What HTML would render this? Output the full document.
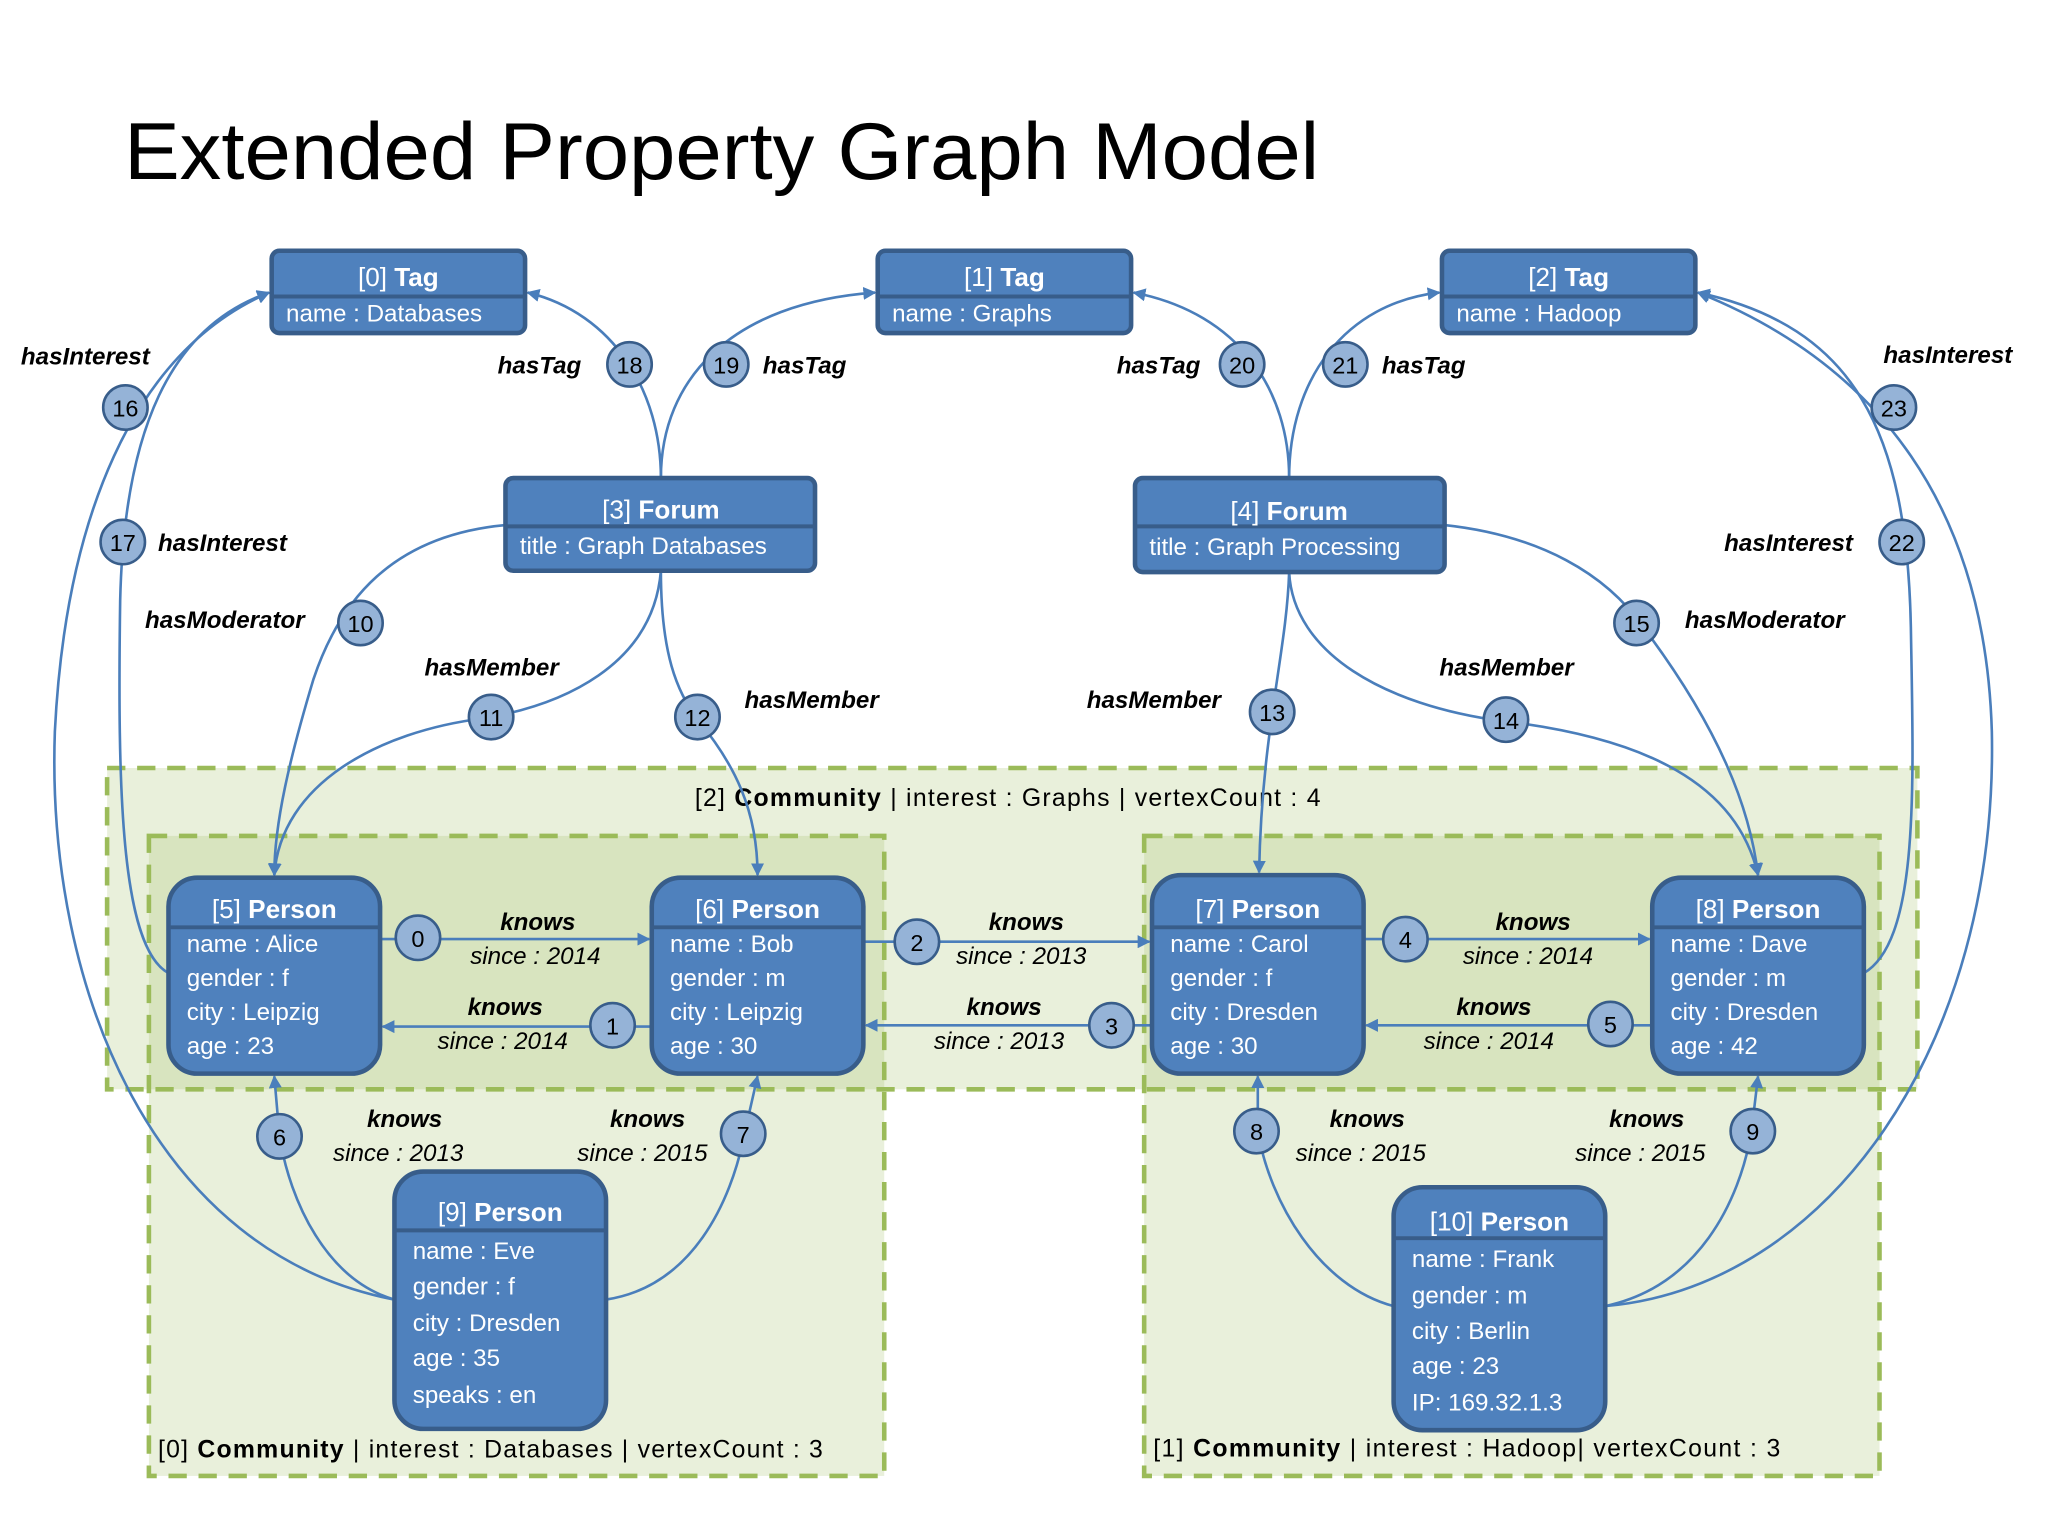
<!DOCTYPE html>
<html><head><meta charset="utf-8"><style>
html,body{margin:0;padding:0;background:#fff;}
svg{display:block;}
.t{font-family:"Liberation Sans",sans-serif;}
.nt{fill:#fff;font-size:20px;}
.nb{fill:#fff;font-size:18.5px;}
.lb{font-size:18.5px;font-weight:bold;font-style:italic;fill:#000;}
.li{font-size:18.5px;font-style:italic;fill:#000;}
.num{font-size:18px;fill:#000;text-anchor:middle;}
.e{fill:none;stroke:#4a7ebb;stroke-width:2;}
.c{fill:#95b3d7;stroke:#385d8a;stroke-width:2;}
.n{fill:#4f81bd;stroke:#385d8a;stroke-width:3.5;}
.cm{fill:rgba(155,187,89,0.22);stroke:#9bbb59;stroke-width:3.5;stroke-dasharray:14 9;}
.ct{font-size:19px;fill:#000;}
</style></head><body>
<svg width="2048" height="1536" viewBox="0 0 1568 1176" xmlns="http://www.w3.org/2000/svg" class="t">
<defs><marker id="a" markerWidth="10" markerHeight="10" refX="9" refY="5" orient="auto" markerUnits="userSpaceOnUse"><path d="M0,0 L10,5 L0,10 z" fill="#4a7ebb"/></marker></defs>
<text x="95" y="137" font-size="62" fill="#000" textLength="915" lengthAdjust="spacingAndGlyphs" class="t">Extended Property Graph Model</text>

<!-- communities -->
<rect class="cm" x="82" y="588" width="1386" height="246"/>
<rect class="cm" x="114" y="640" width="563" height="490"/>
<rect class="cm" x="876" y="640" width="563" height="490"/>
<text class="ct" x="532" y="617" textLength="479">[2] <tspan font-weight="bold">Community</tspan> | interest : Graphs | vertexCount : 4</text>
<text class="ct" x="121" y="1116" textLength="509">[0] <tspan font-weight="bold">Community</tspan> | interest : Databases | vertexCount : 3</text>
<text class="ct" x="883" y="1115" textLength="480">[1] <tspan font-weight="bold">Community</tspan> | interest : Hadoop| vertexCount : 3</text>

<!-- edges -->
<g class="e" marker-end="url(#a)">
<path d="M506,366 C506,300 470,240 404,224"/>
<path d="M506,366 C506,290 560,232 670,224"/>
<path d="M987,366 C987,300 950,240 868,224"/>
<path d="M987,366 C987,290 1030,232 1102,224"/>
<path d="M302,995 C120,960 35,760 42,560 C50,400 100,270 206,224"/>
<path d="M129,745 C92,725 90,600 92,460 C95,330 130,250 206,224"/>
<path d="M1229,1000 C1400,985 1530,800 1525,560 C1520,390 1440,280 1300,224"/>
<path d="M1427,745 C1470,720 1465,600 1463,480 C1460,330 1420,250 1300,224"/>
<path d="M387,402 C300,410 260,460 240,520 C222,580 210,630 210,670"/>
<path d="M506,437 C500,510 430,540 370,550 C290,560 215,600 210,670"/>
<path d="M506,437 C506,500 518,530 535,552 C562,585 580,620 580,670"/>
<path d="M987,438 C985,500 966,560 964,668"/>
<path d="M987,438 C990,500 1060,540 1150,552 C1260,565 1330,600 1346,670"/>
<path d="M1106,402 C1180,410 1230,440 1258,480 C1318,560 1340,620 1346,670"/>
<path d="M291,719 L497,719"/>
<path d="M499,786 L293,786"/>
<path d="M661,721 L880,721"/>
<path d="M882,785 L663,785"/>
<path d="M1044,719 L1263,719"/>
<path d="M1265,785 L1046,785"/>
<path d="M302,995 C250,980 222,920 214,870 L210,824"/>
<path d="M464,995 C530,985 560,920 570,868 L580,824"/>
<path d="M1067,1000 C1010,985 972,920 963,866 L963,824"/>
<path d="M1229,1000 C1300,985 1332,920 1341,866 L1346,824"/>
</g>

<!-- circles -->
<g>
<circle class="c" cx="482" cy="279" r="17"/><text class="num" x="482" y="286">18</text>
<circle class="c" cx="556" cy="279" r="17"/><text class="num" x="556" y="286">19</text>
<circle class="c" cx="951" cy="279" r="17"/><text class="num" x="951" y="286">20</text>
<circle class="c" cx="1030" cy="279" r="17"/><text class="num" x="1030" y="286">21</text>
<circle class="c" cx="96" cy="312" r="17"/><text class="num" x="96" y="319">16</text>
<circle class="c" cx="94" cy="415" r="17"/><text class="num" x="94" y="422">17</text>
<circle class="c" cx="1450" cy="312" r="17"/><text class="num" x="1450" y="319">23</text>
<circle class="c" cx="1456" cy="415" r="17"/><text class="num" x="1456" y="422">22</text>
<circle class="c" cx="276" cy="477" r="17"/><text class="num" x="276" y="484">10</text>
<circle class="c" cx="376" cy="549" r="17"/><text class="num" x="376" y="556">11</text>
<circle class="c" cx="534" cy="549" r="17"/><text class="num" x="534" y="556">12</text>
<circle class="c" cx="974" cy="545" r="17"/><text class="num" x="974" y="552">13</text>
<circle class="c" cx="1153" cy="551" r="17"/><text class="num" x="1153" y="558">14</text>
<circle class="c" cx="1253" cy="477" r="17"/><text class="num" x="1253" y="484">15</text>
<circle class="c" cx="320" cy="718" r="17"/><text class="num" x="320" y="725">0</text>
<circle class="c" cx="469" cy="785" r="17"/><text class="num" x="469" y="792">1</text>
<circle class="c" cx="702" cy="721" r="17"/><text class="num" x="702" y="728">2</text>
<circle class="c" cx="851" cy="785" r="17"/><text class="num" x="851" y="792">3</text>
<circle class="c" cx="1076" cy="719" r="17"/><text class="num" x="1076" y="726">4</text>
<circle class="c" cx="1233" cy="784" r="17"/><text class="num" x="1233" y="791">5</text>
<circle class="c" cx="214" cy="870" r="17"/><text class="num" x="214" y="877">6</text>
<circle class="c" cx="569" cy="868" r="17"/><text class="num" x="569" y="875">7</text>
<circle class="c" cx="962" cy="866" r="17"/><text class="num" x="962" y="873">8</text>
<circle class="c" cx="1342" cy="866" r="17"/><text class="num" x="1342" y="873">9</text>
</g>

<!-- edge labels -->
<text class="lb" x="16" y="279">hasInterest</text>
<text class="lb" x="121" y="422">hasInterest</text>
<text class="lb" x="1442" y="278">hasInterest</text>
<text class="lb" x="1320" y="422">hasInterest</text>
<text class="lb" x="381" y="286">hasTag</text>
<text class="lb" x="584" y="286">hasTag</text>
<text class="lb" x="855" y="286">hasTag</text>
<text class="lb" x="1058" y="286">hasTag</text>
<text class="lb" x="111" y="481">hasModerator</text>
<text class="lb" x="1290" y="481">hasModerator</text>
<text class="lb" x="325" y="517">hasMember</text>
<text class="lb" x="570" y="542">hasMember</text>
<text class="lb" x="832" y="542">hasMember</text>
<text class="lb" x="1102" y="517">hasMember</text>
<g>
<text class="lb" x="383" y="712">knows</text><text class="li" x="360" y="738">since : 2014</text>
<text class="lb" x="358" y="777">knows</text><text class="li" x="335" y="803">since : 2014</text>
<text class="lb" x="757" y="712">knows</text><text class="li" x="732" y="738">since : 2013</text>
<text class="lb" x="740" y="777">knows</text><text class="li" x="715" y="803">since : 2013</text>
<text class="lb" x="1145" y="712">knows</text><text class="li" x="1120" y="738">since : 2014</text>
<text class="lb" x="1115" y="777">knows</text><text class="li" x="1090" y="803">since : 2014</text>
<text class="lb" x="281" y="863">knows</text><text class="li" x="255" y="889">since : 2013</text>
<text class="lb" x="467" y="863">knows</text><text class="li" x="442" y="889">since : 2015</text>
<text class="lb" x="1018" y="863">knows</text><text class="li" x="992" y="889">since : 2015</text>
<text class="lb" x="1232" y="863">knows</text><text class="li" x="1206" y="889">since : 2015</text>
</g>

<!-- nodes -->
<g>
<rect class="n" x="208" y="192" width="194" height="63" rx="6"/><line x1="208" y1="227" x2="402" y2="227" stroke="#385d8a" stroke-width="3"/>
<text class="nt" x="305" y="219" text-anchor="middle">[0] <tspan font-weight="bold">Tag</tspan></text><text class="nb" x="219" y="246">name : Databases</text>
<rect class="n" x="672" y="192" width="194" height="63" rx="6"/><line x1="672" y1="227" x2="866" y2="227" stroke="#385d8a" stroke-width="3"/>
<text class="nt" x="769" y="219" text-anchor="middle">[1] <tspan font-weight="bold">Tag</tspan></text><text class="nb" x="683" y="246">name : Graphs</text>
<rect class="n" x="1104" y="192" width="194" height="63" rx="6"/><line x1="1104" y1="227" x2="1298" y2="227" stroke="#385d8a" stroke-width="3"/>
<text class="nt" x="1201" y="219" text-anchor="middle">[2] <tspan font-weight="bold">Tag</tspan></text><text class="nb" x="1115" y="246">name : Hadoop</text>

<rect class="n" x="387" y="366" width="237" height="71" rx="6"/><line x1="387" y1="403" x2="624" y2="403" stroke="#385d8a" stroke-width="3"/>
<text class="nt" x="506" y="397" text-anchor="middle">[3] <tspan font-weight="bold">Forum</tspan></text><text class="nb" x="398" y="424">title : Graph Databases</text>
<rect class="n" x="869" y="366" width="237" height="72" rx="6"/><line x1="869" y1="403" x2="1106" y2="403" stroke="#385d8a" stroke-width="3"/>
<text class="nt" x="987" y="398" text-anchor="middle">[4] <tspan font-weight="bold">Forum</tspan></text><text class="nb" x="880" y="425">title : Graph Processing</text>

<rect class="n" x="129" y="672" width="162" height="150" rx="22"/><line x1="129" y1="710" x2="291" y2="710" stroke="#385d8a" stroke-width="3"/>
<text class="nt" x="210" y="703" text-anchor="middle">[5] <tspan font-weight="bold">Person</tspan></text>
<text class="nb" x="143" y="729">name : Alice</text><text class="nb" x="143" y="755">gender : f</text><text class="nb" x="143" y="781">city : Leipzig</text><text class="nb" x="143" y="807">age : 23</text>
<rect class="n" x="499" y="672" width="162" height="150" rx="22"/><line x1="499" y1="710" x2="661" y2="710" stroke="#385d8a" stroke-width="3"/>
<text class="nt" x="580" y="703" text-anchor="middle">[6] <tspan font-weight="bold">Person</tspan></text>
<text class="nb" x="513" y="729">name : Bob</text><text class="nb" x="513" y="755">gender : m</text><text class="nb" x="513" y="781">city : Leipzig</text><text class="nb" x="513" y="807">age : 30</text>
<rect class="n" x="882" y="670" width="162" height="152" rx="22"/><line x1="882" y1="710" x2="1044" y2="710" stroke="#385d8a" stroke-width="3"/>
<text class="nt" x="963" y="703" text-anchor="middle">[7] <tspan font-weight="bold">Person</tspan></text>
<text class="nb" x="896" y="729">name : Carol</text><text class="nb" x="896" y="755">gender : f</text><text class="nb" x="896" y="781">city : Dresden</text><text class="nb" x="896" y="807">age : 30</text>
<rect class="n" x="1265" y="672" width="162" height="150" rx="22"/><line x1="1265" y1="710" x2="1427" y2="710" stroke="#385d8a" stroke-width="3"/>
<text class="nt" x="1346" y="703" text-anchor="middle">[8] <tspan font-weight="bold">Person</tspan></text>
<text class="nb" x="1279" y="729">name : Dave</text><text class="nb" x="1279" y="755">gender : m</text><text class="nb" x="1279" y="781">city : Dresden</text><text class="nb" x="1279" y="807">age : 42</text>

<rect class="n" x="302" y="897" width="162" height="197" rx="22"/><line x1="302" y1="942" x2="464" y2="942" stroke="#385d8a" stroke-width="3"/>
<text class="nt" x="383" y="935" text-anchor="middle" font-size="22">[9] <tspan font-weight="bold">Person</tspan></text>
<text class="nb" x="316" y="964" font-size="20">name : Eve</text><text class="nb" x="316" y="991" font-size="20">gender : f</text><text class="nb" x="316" y="1019" font-size="20">city : Dresden</text><text class="nb" x="316" y="1046" font-size="20">age : 35</text><text class="nb" x="316" y="1074" font-size="20">speaks : en</text>
<rect class="n" x="1067" y="909" width="162" height="186" rx="22"/><line x1="1067" y1="948" x2="1229" y2="948" stroke="#385d8a" stroke-width="3"/>
<text class="nt" x="1148" y="942" text-anchor="middle" font-size="22">[10] <tspan font-weight="bold">Person</tspan></text>
<text class="nb" x="1081" y="970" font-size="20">name : Frank</text><text class="nb" x="1081" y="998" font-size="20">gender : m</text><text class="nb" x="1081" y="1025" font-size="20">city : Berlin</text><text class="nb" x="1081" y="1052" font-size="20">age : 23</text><text class="nb" x="1081" y="1080" font-size="20">IP: 169.32.1.3</text>
</g>
</svg>
</body></html>
